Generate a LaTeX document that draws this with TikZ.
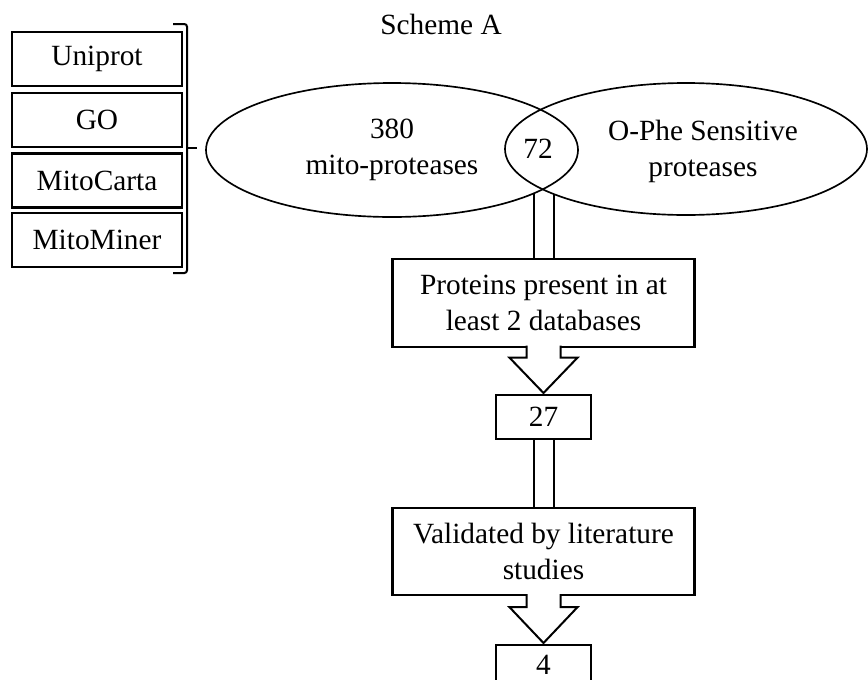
\documentclass[tikz,border=0pt]{standalone}
\usepackage{fontspec}
\setmainfont{Liberation Serif}
\usetikzlibrary{shapes.geometric,calc}

\begin{document}
\begin{tikzpicture}[x=0.75pt,y=-0.75pt,
    every node/.style={font=\fontsize{22}{27}\selectfont,outer sep=0pt},
    dbbox/.style={draw,line width=1.6pt,minimum width=127.5pt,minimum height=40.5pt,inner sep=0pt},
    setoval/.style={draw,ellipse,line width=1.25pt,inner sep=0pt,align=center},
    stepbox/.style={draw,line width=1.6pt,minimum width=226.5pt,minimum height=65.5pt,inner sep=0pt,align=center},
    countbox/.style={draw,line width=1.6pt,minimum width=71.25pt,minimum height=33pt,inner sep=0pt},
    shaft/.style={line width=1.5pt},
    headarrow/.style={line width=1.5pt,fill=white,line join=miter}]
            \useasboundingbox (0,0) rectangle (868,679);
            \clip (0,0) rectangle (868,679);
            \node[anchor=base] (title) at (441,34) {Scheme A};
            % databases
            \node[dbbox] (uniprot) at (97,59) {Uniprot};
            \node[dbbox] (go) at (97,120) {GO};
            \node[dbbox] (mitocarta) at (97,180.5) {MitoCarta};
            \node[dbbox] (mitominer) at (97,240) {MitoMiner};
            \draw[line width=1.5pt,rounded corners=2pt] ($(uniprot.north east)+(-9,-8)$) -- ($(uniprot.north east)+(5,-8)$) -- ($(mitominer.south east)+(5,6)$) -- ($(mitominer.south east)+(-9,6)$);
            \coordinate (brace) at ($(uniprot.north east)!0.5!(mitominer.south east)+(5,-2)$);
            \draw[line width=1.5pt] (brace) -- +(10,0);
            % sets
            \node[setoval,minimum width=279pt,minimum height=100.5pt] (mito) at (392,150) {380\\mito-proteases};
            \node[setoval,minimum width=271.5pt,minimum height=99pt] (ophe) at (686,149) {};
            \node[align=center] (opheT) at (703,151) {O-Phe Sensitive\\proteases};
            \node[anchor=base] (lens) at (538,158) {72};
            % flow
            \node[stepbox] (prot) at (543.5,303) {Proteins present in at\\least 2 databases};
            \node[countbox] (n27) at (543.5,417) {27};
            \node[stepbox] (valid) at (543.5,551.5) {Validated by literature\\studies};
            \node[countbox,text depth=3pt] (n4) at (543.5,667) {4};
            \draw[shaft] (mito.-17.2) -- (mito.-17.2 |- prot.north);
            \draw[shaft] (ophe.-161.4) -- (ophe.-161.4 |- prot.north);
            \draw[headarrow] ($(prot.south)+(-17,-1)$) -- ++(0,12) -- ++(-17,0) -- ($(n27.north)+(0,-2)$) -- ($(prot.south)+(34,11)$) -- ++(-17,0) -- ($(prot.south)+(17,-1)$);
            \draw[shaft] ($(n27.south)+(-10,0)$) -- ($(valid.north)+(-10,0)$);
            \draw[shaft] ($(n27.south)+(10,0)$) -- ($(valid.north)+(10,0)$);
            \draw[headarrow] ($(valid.south)+(-17,-1)$) -- ++(0,13) -- ++(-17,0) -- ($(n4.north)+(0,-2)$) -- ($(valid.south)+(34,12)$) -- ++(-17,0) -- ($(valid.south)+(17,-1)$);
            \end{tikzpicture}
\end{document}
